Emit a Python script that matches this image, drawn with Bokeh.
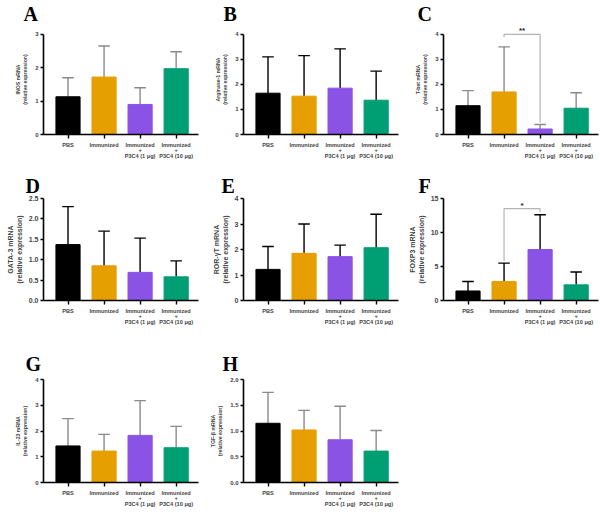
from bokeh.plotting import figure
from bokeh.layouts import column, row
from bokeh.models import FixedTicker
from bokeh.embed import file_html
from bokeh.resources import INLINE

# ---------------- data ----------------
groups = ["PBS", "Immunized", "Immunized\n+\nP3C4 (1 μg)", "Immunized\n+\nP3C4 (10 μg)"]
colors = ["#000000", "#E69F00", "#8B52E6", "#009E73"]

inos_mean = [1.13, 1.72, 0.90, 1.97]
inos_sd = [0.57, 0.93, 0.50, 0.51]
arg_mean = [1.65, 1.53, 1.85, 1.37]
arg_sd = [1.45, 1.62, 1.57, 1.16]
tbet_mean = [1.15, 1.70, 0.22, 1.05]
tbet_sd = [0.60, 1.80, 0.18, 0.62]
gata_mean = [1.37, 0.85, 0.69, 0.58]
gata_sd = [0.93, 0.85, 0.84, 0.39]
ror_mean = [1.22, 1.85, 1.72, 2.07]
ror_sd = [0.90, 1.15, 0.45, 1.31]
foxp3_mean = [1.40, 2.80, 7.50, 2.30]
foxp3_sd = [1.40, 2.70, 5.10, 1.90]
il23_mean = [1.42, 1.22, 1.83, 1.35]
il23_sd = [1.06, 0.65, 1.35, 0.83]
tgf_mean = [1.15, 1.02, 0.83, 0.61]
tgf_sd = [0.60, 0.38, 0.65, 0.40]

ticks_0_3 = [0, 1, 2, 3]
ticks_0_4 = [0, 1, 2, 3, 4]
ticks_0_25 = [0, 0.5, 1.0, 1.5, 2.0, 2.5]
ticks_0_15 = [0, 5, 10, 15]
ticks_0_2 = [0, 0.5, 1.0, 1.5, 2.0]

# significance: (x1, x2, bracket y, left leg end, right leg end, text)
sig_tbet = (1, 2, 4.0, 3.88, 0.48, "**")
sig_foxp3 = (1, 2, 13.5, 5.8, 13.0, "*")

FONT = "Liberation Sans"
XS = [0, 1, 2, 3]
X0 = -0.68


def panel(letter, ylabel, means, sds, yticks, yrange_end, T, B, H,
          err_color, letter_dx, letter_standoff, big=False, sig=None):
    ymax = yticks[-1]
    p = figure(width=200, height=H, x_range=(X0, 3.62), y_range=(0, yrange_end),
               output_backend="svg", toolbar_location=None, title=letter,
               min_border_left=43, min_border_right=2,
               min_border_top=T, min_border_bottom=B)
    p.outline_line_color = None
    p.xgrid.visible = False
    p.ygrid.visible = False

    p.title.text_font = "Liberation Serif"
    p.title.text_font_style = "bold"
    p.title.text_font_size = "20px"
    p.title.text_color = "#000000"
    p.title.align = "left"
    p.title.offset = -letter_dx
    p.title.standoff = letter_standoff

    tops = [m + s for m, s in zip(means, sds)]
    # error bars (upper only)
    p.segment(x0=XS, y0=means, x1=XS, y1=tops, line_color=err_color, line_width=1.4)
    p.segment(x0=[x - 0.16 for x in XS], y0=tops, x1=[x + 0.16 for x in XS], y1=tops,
              line_color=err_color, line_width=1.4)
    p.vbar(x=XS, top=means, width=0.67, fill_color=colors, line_color=colors, line_width=1)

    if sig is not None:
        x1, x2, yb, yl, yr, txt = sig
        p.line(x=[x1, x1, x2, x2], y=[yl, yb, yb, yr], line_color="#b4b4b4", line_width=1.2)
        p.text(x=[(x1 + x2) / 2], y=[yb], text=[txt], text_align="center",
               text_baseline="bottom", text_font_size="8px", text_font_style="bold",
               text_color="#222222", y_offset=1)

    # x axis
    xa = p.xaxis[0]
    xa.ticker = FixedTicker(ticks=XS)
    xa.major_label_overrides = {i: g for i, g in enumerate(groups)}
    xa.major_label_text_font = FONT
    xa.major_label_text_font_style = "bold"
    xa.major_label_text_font_size = "5.6px"
    xa.major_label_text_line_height = 0.95
    xa.major_label_standoff = 3
    xa.axis_line_width = 1.6
    xa.major_tick_line_width = 1.4
    xa.major_tick_out = 4
    xa.major_tick_in = 0
    xa.minor_tick_line_color = None

    # y axis
    ya = p.yaxis[0]
    ya.ticker = FixedTicker(ticks=yticks)
    ya.bounds = (0, ymax)
    ya.major_label_overrides = {t: (("%.1f" % t) if ymax <= 2.5 else str(t)) for t in yticks}
    ya.major_label_text_font = FONT
    ya.major_label_text_font_style = "bold"
    ya.major_label_text_font_size = "7px" if big else "6px"
    ya.major_label_standoff = 2
    ya.axis_line_width = 1.6
    ya.major_tick_line_width = 1.4
    ya.major_tick_out = 3
    ya.major_tick_in = 0
    ya.minor_tick_line_color = None
    ya.axis_label = ylabel + " mRNA\n(relative expression)"
    ya.axis_label_text_font = FONT
    ya.axis_label_text_font_style = "bold"
    ya.axis_label_text_font_size = "7px" if big else "5.2px"
    ya.axis_label_standoff = 3 if big else 4
    return p


# row 1: frame top at 22 px, value axis top 10 px below (room for significance stars)
pA = panel("A", "INOS", inos_mean, inos_sd, ticks_0_3, 3 * 112 / 102, 22, 36, 170, "#8a8a8a", 20, 0)
pB = panel("B", "Arginase-1", arg_mean, arg_sd, ticks_0_4, 4 * 112 / 102, 22, 36, 170, "#000000", 20, 0)
pC = panel("C", "T-bet", tbet_mean, tbet_sd, ticks_0_4, 4 * 112 / 102, 22, 36, 170, "#8a8a8a", 26, 0, sig=sig_tbet)
pD = panel("D", "GATA-3", gata_mean, gata_sd, ticks_0_25, 2.5, 28, 40, 170, "#000000", 18, 4, big=True)
pE = panel("E", "ROR-γT", ror_mean, ror_sd, ticks_0_4, 4, 28, 40, 170, "#000000", 22, 4, big=True)
pF = panel("F", "FOXP3", foxp3_mean, foxp3_sd, ticks_0_15, 15, 28, 40, 170, "#000000", 25, 4, big=True, sig=sig_foxp3)
pG = panel("G", "IL-23", il23_mean, il23_sd, ticks_0_4, 4, 39, 33, 175, "#8a8a8a", 18, 9)
pH = panel("H", "TGF-β", tgf_mean, tgf_sd, ticks_0_2, 2.0, 39, 33, 175, "#8a8a8a", 21, 9)

layout = column(row(pA, pB, pC, spacing=0), row(pD, pE, pF, spacing=0), row(pG, pH, spacing=0), spacing=0)

open("out.html", "w").write(file_html(layout, INLINE))
